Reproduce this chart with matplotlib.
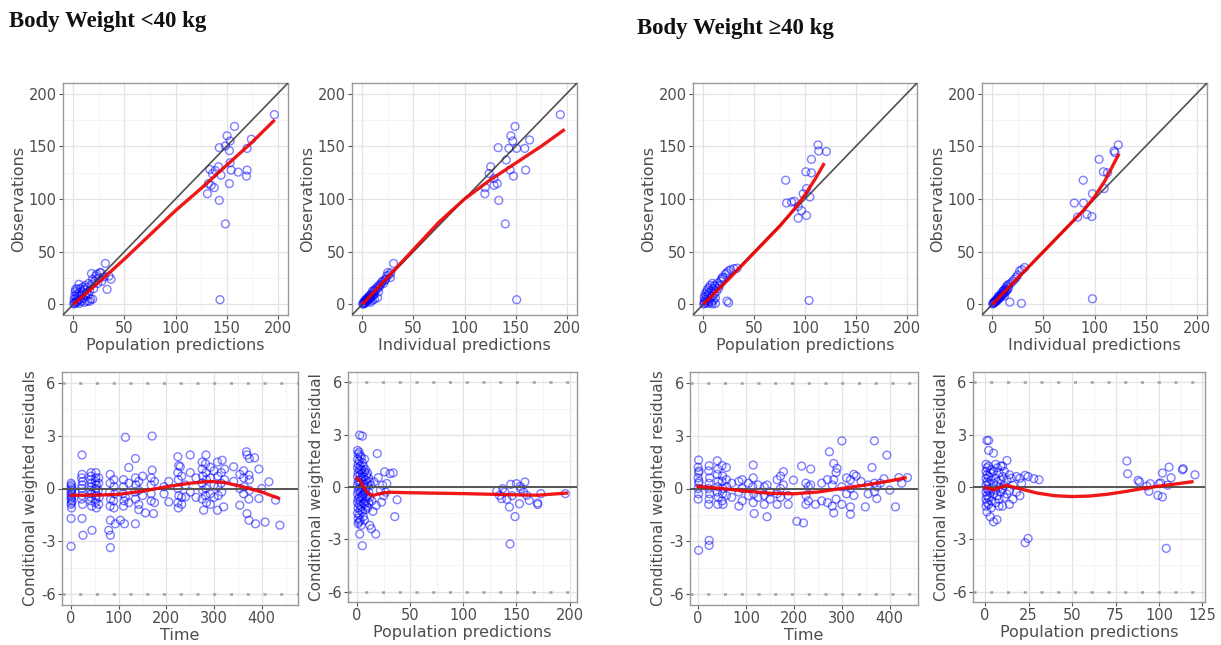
import matplotlib
matplotlib.use("Agg")
import matplotlib.pyplot as plt
from matplotlib.ticker import FixedLocator

# ---------------- DATA ----------------
titles = ["Body Weight <40 kg", "Body Weight \u226540 kg"]

# Panel 1: <40 kg, population predictions vs observations
p1_x = [0.5, 1, 1, 1.5, 2, 2, 2.3, 3, 3, 3.5, 4, 4, 5, 5, 5.6, 6, 6, 7, 7, 8,
        8, 9, 9.9, 10, 11, 11, 12, 12, 13, 13.9, 14, 15, 15, 16, 17, 17.9, 18, 19, 20, 21,
        22, 23, 24, 25, 26, 27, 28, 30, 31.4, 33.1, 35, 37, 16, 19,
        196.7, 157.7, 150.4, 153.4, 148.8, 142.8, 152.7, 174.2, 170, 133.6, 136.2, 138.8, 142,
        132.2, 134.9, 131.2, 137.9, 142.8, 152.7, 153.4, 154.4, 161.3, 170, 169.4, 148.8, 143.5, 144.5]
p1_y = [0.5, 2, 5, 8, 1, 12, 14.3, 3, 6, 10, 2, 15, 4, 8, 19.1, 1, 11, 5, 15, 3,
        9, 12, 16.6, 6, 2, 14, 8, 18, 11, 3.2, 16, 9, 20, 13, 5, 29.3, 19, 24, 15, 22,
        27, 28.7, 20, 25, 30, 30.3, 22, 26, 38.9, 14.3, 27, 23.9, 3, 5,
        180, 168.8, 159.9, 155, 150.3, 148.7, 145.9, 156.7, 148, 128, 124, 127, 130.6,
        114.6, 113, 105, 110.8, 98.7, 114.6, 134.4, 127.4, 125.5, 127.4, 121.7, 76.4, 4.5, 122.6]
p1_fit_x = [0, 25, 50, 75, 100, 125, 150, 175, 197]
p1_fit_y = [0, 21, 43, 66, 89, 110, 132, 154, 175]

# Panel 2: <40 kg, individual predictions vs observations
p2_x = [0.5, 1, 1.5, 2, 2.5, 3, 3, 4, 4, 5, 5, 6, 6, 7, 7, 8, 8, 9, 9, 10,
        10, 11, 11, 12, 12, 13, 14, 14.9, 15, 16, 17, 18, 19, 20, 21, 22, 23, 24, 25, 26,
        27.5, 28, 30.7, 12, 10, 8, 6, 16,
        193.7, 149.4, 145.3, 147.2, 151, 143.4, 132.9, 163.6, 159.8, 144.6, 147.8, 158.9,
        125.6, 124.1, 128.8, 119.9, 128.8, 132, 120.3, 133.5, 139.9, 151, 140.8]
p2_y = [0.5, 1.5, 0.5, 3, 1, 4, 2, 5, 3, 6, 4, 7, 5, 8, 6.4, 9, 6, 10, 7, 12.7,
        8, 12, 9, 14, 10, 13, 16, 6.4, 15, 18, 17, 19, 21, 22, 20, 23, 24, 27, 30.3, 28,
        25.5, 30, 38.9, 5, 4, 2, 3, 12,
        180, 168.8, 159.9, 155, 148, 148, 148.7, 156, 127.4, 127.4, 121.7, 148,
        130.6, 124.2, 119.4, 105, 113, 114.6, 110.8, 98.7, 76.4, 4.5, 137]
p2_fit_x = [0, 25, 50, 75, 100, 125, 150, 175, 198]
p2_fit_y = [0, 26, 52, 78, 100, 118, 134, 150, 166]

# Panel 3: <40 kg, time vs CWRES
p3_x = [0, 1, 0, 2, 1, 0, 2, 0, 1, 0, 2, 1, 0, 1, 0, 0,
        23, 23, 22, 24, 23, 22, 24, 23, 22, 24, 23, 25,
        42, 42, 41, 43, 42, 41, 43, 42, 41, 43, 44,
        52, 52, 51, 53, 52, 51, 53, 52, 51, 53,
        58, 58, 57, 59, 58,
        82, 82, 81, 83, 82, 82.5, 79, 82.5, 82.5,
        90, 90, 91, 89, 90, 93,
        110, 110, 109, 111, 110, 103.5, 114, 112, 114, 121, 121, 121,
        135, 135, 136, 134, 135, 135, 142, 142, 142, 142, 150, 150, 156,
        170, 170, 168, 168, 168, 168, 175, 175, 173,
        195, 195, 205, 205,
        224, 226, 224, 225, 224, 226, 224, 225, 229, 232, 232, 232, 240, 240,
        250, 250, 250, 262, 262,
        275, 275, 276, 275, 276, 275, 278, 283, 282, 283, 284, 283, 282, 284,
        292, 292, 292, 292, 300, 300, 300,
        307, 308, 308, 309, 307, 317, 315, 315, 316, 320, 322, 322,
        341, 341, 354, 354, 354,
        368, 362, 362, 363, 362, 369, 369, 373, 374, 373, 374, 374, 373,
        385, 387, 394, 394, 400, 407, 415, 429, 438]
p3_y = [0.3, 0.2, 0.1, 0.0, -0.1, -0.2, -0.3, -0.4, -0.5, -0.6, -0.7, -0.8, -0.9, -1.1, -1.7, -3.28,
        1.9, 0.8, 0.6, 0.4, 0.2, 0.0, -0.2, -0.4, -0.6, -0.9, -1.7, -2.65,
        0.9, 0.7, 0.5, 0.3, 0.1, -0.1, -0.3, -0.5, -0.7, -1.0, -2.37,
        0.9, 0.6, 0.4, 0.2, 0.0, -0.2, -0.4, -0.6, -0.8, -1.1,
        0.6, 0.3, -0.1, -0.5, -0.9,
        0.8, 0.3, -0.2, -0.6, -1.0, -1.8, -2.37, -2.65, -3.35,
        0.5, 0.1, -0.3, -0.7, -1.1, -2.0,
        0.5, 0.1, -0.3, -0.7, -1.0, -1.8, 2.9, -2.0, -0.5, 1.19, 0.3, -0.8,
        1.7, 0.6, 0.2, -0.2, -0.6, -2.0, 0.4, -0.1, -0.9, -1.2, 0.7, -0.4, -1.38,
        2.97, 1.04, 0.6, 0.2, -0.3, -0.7, 0.4, -0.8, -1.42,
        0.1, -0.3, -0.76, 0.4,
        1.8, 1.3, 0.9, 0.5, 0.0, -0.4, -0.8, -1.1, 1.23, 0.7, -0.5, -0.9, -0.47, 0.2,
        1.9, 0.9, -0.2, 0.6, -0.5,
        1.5, 1.1, 0.7, 0.3, -0.1, -0.6, -1.23, 1.9, 1.4, 0.9, 0.5, 0.0, -0.4, -0.8,
        1.2, 0.6, -0.3, -0.9, 1.0, 0.2, -0.5,
        1.5, 0.7, 0.1, -0.4, -1.23, 1.6, 0.9, 0.3, -0.2, -1.04, 1.1, 0.5,
        1.23, 0.4, -0.95, 0.8, 0.0,
        2.08, 1.0, 0.6, 0.1, -0.3, -1.42, 1.9, 0.76, -0.1, -1.8, 1.7, 0.5, -0.6,
        1.74, -2.0, -0.57, 1.1, 0.0, -1.9, 0.38, -0.66, -2.08]
p3_fit_x = [0, 50, 100, 150, 200, 250, 290, 320, 360, 400, 435]
p3_fit_y = [-0.38, -0.38, -0.33, -0.15, 0.1, 0.3, 0.4, 0.35, 0.1, -0.2, -0.55]

# Panel 4: <40 kg, population predictions vs CWRES
p4_x = [0.5, 0.5, 0.5, 0.5, 0.5, 0.5, 0.5, 0.5,
        1, 1, 1, 1, 1, 1, 1, 1, 1,
        2, 2, 2, 2, 2, 2, 2, 2, 2,
        2.5, 2.5,
        3, 3, 3, 3, 3, 3, 3, 3,
        4, 4, 4, 4, 4, 4, 4,
        5, 5, 5, 5, 5, 5, 5,
        6, 6, 6, 6, 6, 6,
        7, 7, 7, 7, 7, 7,
        8, 8, 8, 8, 8,
        9, 9, 9, 9,
        10, 10, 10, 10,
        11, 11, 11,
        12, 12, 12,
        13.5, 13, 14, 15, 16, 17.6, 18, 19, 20, 22, 23, 24, 25, 26, 27, 28, 31, 34, 35.5, 37.7,
        131.4, 134, 136, 137, 139, 143.4, 144, 144.7, 148.7, 150, 152.8, 153.8, 154, 156.6,
        158, 159.7, 162, 170, 170, 173, 196, 146, 141]
p4_y = [2.1, 1.6, 1.1, 0.6, 0.1, -0.4, -0.9, -1.5,
        1.9, 1.3, 0.8, 0.3, -0.2, -0.7, -1.2, -1.8, -2.1,
        2.0, 1.5, 1.0, 0.4, -0.1, -0.6, -1.0, -1.6, -2.0,
        2.98, -2.7,
        1.8, 1.2, 0.7, 0.2, -0.3, -0.8, -1.3, -1.9,
        1.7, 1.0, 0.5, -0.1, -0.6, -1.1, -2.2,
        2.92, 1.4, 0.8, 0.0, -0.5, -1.4, -3.37,
        1.2, 0.6, 0.1, -0.4, -0.9, -1.7,
        1.6, 0.9, 0.2, -0.3, -1.0, -1.9,
        1.0, 0.4, -0.2, -0.8, -1.3,
        0.7, 0.0, -0.6, -1.1,
        0.8, 0.2, -0.5, -1.2,
        0.5, -0.3, -0.9,
        0.3, -0.6, -2.2,
        -2.4, 0.1, -0.8, -1.4, 0.3, -2.7, -1.06, 1.92, 0.54, -0.2, -0.87, 0.1, -0.5, 0.87, -0.3, 0.2, 0.77, 0.81, -1.7, -0.73,
        -0.23, -0.48, -0.67, -0.1, -0.29, -1.15, -3.27, 0.15, -1.7, 0.19, -0.96, 0.04, -0.1, -0.29,
        0.29, -0.48, -0.77, -0.92, -1.0, -0.38, -0.38, -0.5, -0.7]
p4_fit_x = [0, 3, 6, 10, 14, 20, 30, 50, 100, 150, 170, 197]
p4_fit_y = [0.5, 0.35, 0.0, -0.35, -0.5, -0.4, -0.3, -0.33, -0.38, -0.45, -0.47, -0.35]

# Panel 5: >=40 kg, population predictions vs observations
p5_x = [0.5, 1, 1, 1.5, 2, 2, 3, 3, 3.5, 4, 4, 5, 5, 5.5, 6, 6, 7, 7, 8, 8,
        9, 9, 10, 10, 11, 11, 12, 12, 13, 14, 15, 16, 17, 18, 19, 20, 21.8, 23, 25, 27,
        30, 33.2, 23.4, 25, 12, 9,
        112.8, 113.5, 121, 106.3, 100.8, 106.3, 81, 81.9, 86.8, 89.4, 101.5, 98.2, 93.3,
        96.6, 93.3, 101.5, 104.7, 104]
p5_y = [0.5, 3, 7, 1, 5, 10, 2, 8, 12, 4, 14, 1, 9, 16, 3, 11, 6, 18, 2, 13,
        8, 20, 4, 15, 10, 18, 6, 17, 12, 20, 15, 18, 22, 24, 26, 25, 28.7, 30, 31.8, 33,
        34, 34.4, 3.2, 1.6, 1, 0.5,
        151.3, 145.5, 145, 137.6, 125.8, 124.8, 117.8, 96.2, 97.1, 97.8, 109.9, 105, 93,
        89, 81.8, 84.4, 101.9, 3.8]
p5_fit_x = [0, 25, 50, 75, 90, 100, 110, 119]
p5_fit_y = [0, 24, 49, 74, 91, 104, 119, 134]

# Panel 6: >=40 kg, individual predictions vs observations
p6_x = [0.5, 1, 1.5, 2, 2.5, 3, 3.5, 4, 4.5, 5, 5.5, 6, 6.5, 7, 8, 8, 9, 9, 10, 10,
        11, 11, 12, 12, 13, 13, 14, 14, 15, 15, 16, 16, 17.2, 18, 20, 22, 23.6, 25, 26.9, 28.5,
        29, 31.7, 12, 6,
        123.3, 119.1, 120, 104.5, 108.7, 112.6, 89, 109.4, 80.3, 89.3, 98, 92.6, 97.4, 83.5, 98]
p6_y = [0.5, 1, 2, 1.5, 3, 2.5, 4, 3, 5, 4, 6, 5, 7, 6, 9, 7, 10, 8, 12, 9,
        13, 10, 14, 11, 15, 12, 17, 13, 18, 14, 19, 16, 2.2, 20, 22, 24, 26, 28, 31.8, 1,
        33, 35, 8, 8,
        151.3, 145.5, 144, 137.6, 125.8, 124.8, 117.8, 109.9, 96.2, 96.2, 105, 85.4, 83.4, 82.8, 5.4]
p6_fit_x = [0, 25, 50, 75, 90, 100, 110, 124]
p6_fit_y = [0, 25, 50, 75, 90, 102, 117, 143]

# Panel 7: >=40 kg, time vs CWRES
p7_x = [1, 0, 1, 0, 1, 0, 1, 0, 1, 2, 2,
        23, 22, 24, 23, 22, 24, 23, 22, 23, 23,
        40, 41, 40, 42, 41, 40, 42, 41,
        50, 51, 50, 52, 51, 50, 52,
        59, 59, 60, 59,
        70, 70,
        85, 85, 85, 92, 92, 92,
        105, 105, 115, 115, 114, 116, 115, 117, 125, 125,
        138, 138, 138, 144, 144, 150, 150,
        165, 165, 165, 172, 172, 172, 178, 178,
        188, 188, 199,
        206, 216, 220, 225, 225, 225, 230, 230, 235, 235,
        245, 258, 258,
        270, 270, 274, 280, 280, 283, 283, 283, 288, 288, 290,
        300, 300, 300, 310, 310, 318, 318, 318, 318, 325, 325, 330,
        340, 349, 355, 355, 363, 368, 368, 368, 373, 373,
        380, 388, 394, 400, 412, 419, 425, 437]
p7_y = [1.61, 1.2, 0.9, 0.6, 0.3, 0.0, -0.3, -0.6, -3.5, 1.0, 0.4,
        1.29, 1.0, 0.6, 0.3, 0.0, -0.3, -0.6, -0.9, -2.94, -3.22,
        1.57, 1.1, 0.8, 0.4, 0.1, -0.2, -0.5, -0.9,
        1.3, 0.7, 0.4, 0.0, -0.3, -0.7, -0.9,
        1.19, 0.5, 0.1, -0.4,
        0.3, -0.5,
        0.4, -0.2, -1.0, 0.5, 0.0, -0.7,
        0.3, -0.4, 1.33, 0.6, 0.1, -0.3, -0.8, -1.42, 0.2, -0.5,
        0.1, -0.4, -0.9, -1.6, 0.2, -0.2, -0.6,
        0.5, -0.3, -0.9, 0.7, 0.0, -0.5, 0.95, 0.2,
        -0.4, -0.9, 0.47,
        -1.86, 1.27, -1.95, 0.3, -0.4, -0.9, 0.1, -0.7, 1.1, 0.2,
        -0.9, -0.7, 0.3,
        0.5, -0.8, 2.08, -1.0, 0.2, 1.42, -1.38, 0.5, -0.6, 0.9, 1.14,
        2.7, 0.1, -0.9, 0.6, -0.3, -1.46, -1.04, 0.5, 0.0, 0.8, -0.4, 0.7,
        0.4, -1.04, 0.2, -0.3, 1.19, 2.7, 0.3, -0.2, -0.57, 0.1,
        0.3, 0.55, 1.89, -0.09, -1.04, 0.62, 0.3, 0.62]
p7_fit_x = [0, 50, 100, 150, 200, 250, 300, 350, 400, 432]
p7_fit_y = [0.12, 0.0, -0.15, -0.27, -0.3, -0.2, 0.0, 0.2, 0.43, 0.6]

# Panel 8: >=40 kg, population predictions vs CWRES
p8_x = [0.5, 0.5, 0.5, 0.5, 0.5, 0.5, 0.5,
        1, 1, 1, 1, 1, 1, 1, 1,
        2, 2, 2, 2, 2, 2, 2, 2,
        2.9, 2.9, 2.9,
        3.5, 3.5, 3.5, 3.5, 3.5,
        4.8, 4.8, 4.8, 4.8, 4.8,
        6, 6, 6, 6, 6.8,
        7, 7, 7, 8, 8, 8, 8, 9, 9, 9,
        10, 10, 10, 10, 11, 11, 11, 12.5, 12.5, 12.5,
        14, 14, 14, 15, 16, 16, 18, 18, 20, 20, 21, 23, 23, 24.7, 24.7, 28, 31,
        81.5, 82, 88, 88.8, 94.2, 95, 100, 101, 102, 99.4, 102, 104.2, 105.8, 107, 113.5,
        114, 120.7, 105, 93]
p8_y = [1.3, 0.9, 0.5, 0.1, -0.3, -0.7, -1.1,
        2.67, 1.1, 0.7, 0.3, -0.1, -0.5, -0.9, -1.43,
        2.67, 2.1, 1.2, 0.6, 0.2, -0.2, -0.6, -1.0,
        -1.71, 0.8, -0.3,
        1.0, 0.4, -0.1, -0.8, -1.2,
        1.94, -2.0, 0.9, 0.2, -0.4,
        1.3, 0.5, -0.2, -0.9, -1.87,
        1.1, 0.3, -0.5, 0.8, 0.0, -0.7, -1.1, 1.2, 0.4, -0.3,
        1.2, 0.6, -0.1, -1.1, 0.9, 0.1, -0.6, 1.52, 0.4, -0.4,
        0.7, -0.2, -1.0, 0.5, 0.1, -0.7, 0.6, -0.3, 0.5, -0.5, 0.2, -3.2, 0.67, -2.95, 0.6, 0.48, 0.42,
        1.49, 0.76, 0.38, 0.29, -0.25, 0.19, 0.19, 0.23, 0.8, -0.48, -0.57, -3.52, 1.14, 0.53, 0.99,
        1.05, 0.7, 0.1, 0.05]
p8_fit_x = [0, 5, 12, 20, 30, 40, 50, 60, 70, 80, 90, 100, 110, 119]
p8_fit_y = [-0.05, -0.15, 0.1, -0.1, -0.35, -0.5, -0.55, -0.52, -0.42, -0.27, -0.1, 0.05, 0.18, 0.3]

# ---------------- STYLE / LAYOUT ----------------
W, H = 1221, 645
fig = plt.figure(figsize=(W / 100, H / 100), dpi=100)
fig.patch.set_facecolor("white")

PT_COLOR = "#0000FF"
FIT_COLOR = "#EE0000"
TXT = "#4D4D4D"
LAB_SIZE = 11.5
RES_LAB_SIZE = 11
TICK_SIZE = 10.5


def make_ax(l, t, r, b):
    ax = fig.add_axes([l / W, 1 - b / H, (r - l) / W, (b - t) / H])
    ax.set_facecolor("white")
    for s in ax.spines.values():
        s.set_color("#999999")
        s.set_linewidth(1.0)
    ax.tick_params(axis="both", which="major", length=3, width=0.8, color="#555555",
                   labelcolor=TXT, labelsize=TICK_SIZE, pad=1.5)
    ax.tick_params(axis="both", which="minor", length=0)
    ax.grid(True, which="major", color="#E3E3E3", linewidth=0.9, zorder=0)
    ax.grid(True, which="minor", color="#F0F0F0", linewidth=0.5, zorder=0)
    ax.set_axisbelow(True)
    return ax


def scatter(ax, x, y):
    ax.scatter(x, y, s=32, facecolors="none", edgecolors=PT_COLOR, alpha=0.5,
               linewidths=1.0, zorder=2)


def obs_panel(ax, x, y, fx, fy, xlabel):
    ax.set_xlim(-10, 210)
    ax.set_ylim(-10, 210)
    ax.xaxis.set_major_locator(FixedLocator([0, 50, 100, 150, 200]))
    ax.yaxis.set_major_locator(FixedLocator([0, 50, 100, 150, 200]))
    ax.xaxis.set_minor_locator(FixedLocator([25, 75, 125, 175]))
    ax.yaxis.set_minor_locator(FixedLocator([25, 75, 125, 175]))
    scatter(ax, x, y)
    ax.axline((0, 0), slope=1, color="#333333", linewidth=1.2, alpha=0.85, zorder=3)
    ax.plot(fx, fy, color=FIT_COLOR, linewidth=2.4, alpha=0.9, zorder=4,
            solid_capstyle="butt")
    ax.set_xlabel(xlabel, fontsize=LAB_SIZE, color=TXT, labelpad=1)
    ax.set_ylabel("Observations", fontsize=LAB_SIZE, color=TXT, labelpad=2)


def res_panel(ax, x, y, fx, fy, xlim, xticks, xminor, xlabel, ylabel):
    ax.set_xlim(*xlim)
    ax.set_ylim(-6.6, 6.6)
    ax.xaxis.set_major_locator(FixedLocator(xticks))
    ax.xaxis.set_minor_locator(FixedLocator(xminor))
    ax.yaxis.set_major_locator(FixedLocator([-6, -3, 0, 3, 6]))
    ax.yaxis.set_minor_locator(FixedLocator([-4.5, -1.5, 1.5, 4.5]))
    ax.set_yticklabels(["-6", "-3", "0", "3", "6"])
    for yy in (-6, 6):
        ax.axhline(yy, color="#A0A0A0", linewidth=1.8, linestyle=(0, (1.2, 5.5)), zorder=1)
    scatter(ax, x, y)
    ax.axhline(0, color="#555555", linewidth=1.4, zorder=3)
    ax.plot(fx, fy, color=FIT_COLOR, linewidth=2.4, alpha=0.9, zorder=4)
    ax.set_xlabel(xlabel, fontsize=LAB_SIZE, color=TXT, labelpad=1)
    ax.set_ylabel(ylabel, fontsize=RES_LAB_SIZE, color=TXT, labelpad=2)


# top row
ax1 = make_ax(63, 83, 288, 315)
obs_panel(ax1, p1_x, p1_y, p1_fit_x, p1_fit_y, "Population predictions")
ax2 = make_ax(352, 83, 577, 315)
obs_panel(ax2, p2_x, p2_y, p2_fit_x, p2_fit_y, "Individual predictions")
ax5 = make_ax(693, 83, 917, 315)
obs_panel(ax5, p5_x, p5_y, p5_fit_x, p5_fit_y, "Population predictions")
ax6 = make_ax(982, 83, 1207, 315)
obs_panel(ax6, p6_x, p6_y, p6_fit_x, p6_fit_y, "Individual predictions")

# bottom row
ax3 = make_ax(62, 372, 298, 605)
res_panel(ax3, p3_x, p3_y, p3_fit_x, p3_fit_y, (-19, 476), [0, 100, 200, 300, 400],
          [50, 150, 250, 350, 450], "Time", "Conditional weighted residuals")
ax4 = make_ax(348, 372, 577, 602)
res_panel(ax4, p4_x, p4_y, p4_fit_x, p4_fit_y, (-8.5, 207), [0, 50, 100, 150, 200],
          [25, 75, 125, 175], "Population predictions", "Conditional weighted residual")
ax7 = make_ax(690, 372, 918, 605)
res_panel(ax7, p7_x, p7_y, p7_fit_x, p7_fit_y, (-17, 459), [0, 100, 200, 300, 400],
          [50, 150, 250, 350, 450], "Time", "Conditional weighted residuals")
ax8 = make_ax(973, 372, 1205, 602)
res_panel(ax8, p8_x, p8_y, p8_fit_x, p8_fit_y, (-7, 126.5), [0, 25, 50, 75, 100, 125],
          [12.5, 37.5, 62.5, 87.5, 112.5], "Population predictions", "Conditional weighted residual")

# titles
fig.text(9 / W, 1 - 27 / H, titles[0], fontsize=16.5, fontweight="bold",
         family="Liberation Serif", color="#111111", ha="left", va="baseline")
fig.text(637 / W, 1 - 34 / H, titles[1], fontsize=16.5, fontweight="bold",
         family=["Liberation Serif", "DejaVu Serif"], color="#111111", ha="left", va="baseline")

fig.savefig("out.png", dpi=100, facecolor="white")
